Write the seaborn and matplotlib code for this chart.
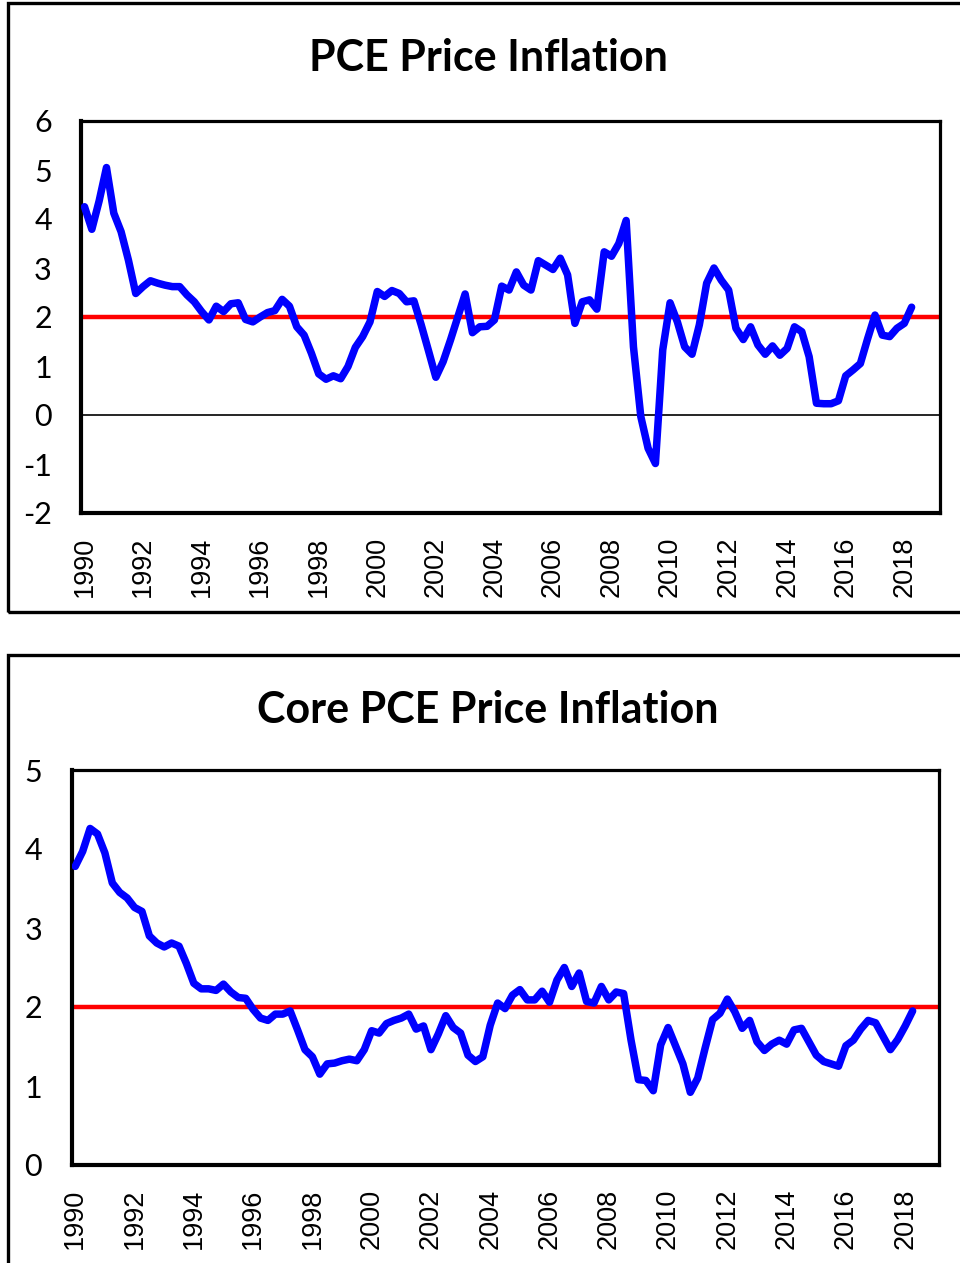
import numpy as np
import pandas as pd
import matplotlib
matplotlib.use("Agg")
import matplotlib.pyplot as plt
from matplotlib.patches import Rectangle
import seaborn as sns

# quarterly, 1990Q1 .. 2018Q2 (year-over-year %)
pce = [4.25, 3.79, 4.37, 5.05, 4.12, 3.74, 3.16, 2.48, 2.62, 2.74,
       2.69, 2.65, 2.62, 2.62, 2.45, 2.31, 2.11, 1.94, 2.22, 2.11,
       2.27, 2.29, 1.95, 1.90, 2.00, 2.09, 2.13, 2.36, 2.22, 1.80,
       1.63, 1.26, 0.84, 0.73, 0.80, 0.74, 0.99, 1.38, 1.60, 1.90,
       2.52, 2.42, 2.54, 2.48, 2.31, 2.33, 1.84, 1.31, 0.77, 1.09,
       1.53, 2.00, 2.47, 1.68, 1.80, 1.81, 1.94, 2.63, 2.55, 2.92,
       2.65, 2.55, 3.15, 3.06, 2.97, 3.20, 2.86, 1.87, 2.31, 2.35,
       2.16, 3.33, 3.24, 3.50, 3.97, 1.39, -0.03, -0.68, -0.99, 1.33,
       2.29, 1.90, 1.39, 1.24, 1.84, 2.69, 3.00, 2.75, 2.55, 1.77,
       1.54, 1.80, 1.43, 1.24, 1.41, 1.22, 1.36, 1.80, 1.70, 1.19,
       0.24, 0.23, 0.23, 0.29, 0.80, 0.92, 1.05, 1.56, 2.04, 1.63,
       1.60, 1.77, 1.87, 2.20]
core = [3.78, 3.97, 4.26, 4.19, 3.95, 3.57, 3.45, 3.38, 3.26, 3.21,
        2.90, 2.81, 2.76, 2.81, 2.77, 2.55, 2.30, 2.23, 2.23, 2.21,
        2.29, 2.19, 2.12, 2.11, 1.97, 1.86, 1.83, 1.91, 1.91, 1.95,
        1.71, 1.46, 1.37, 1.15, 1.28, 1.29, 1.32, 1.34, 1.32, 1.46,
        1.70, 1.67, 1.79, 1.83, 1.86, 1.91, 1.72, 1.76, 1.46, 1.66,
        1.89, 1.74, 1.67, 1.39, 1.31, 1.37, 1.77, 2.05, 1.98, 2.15,
        2.22, 2.09, 2.09, 2.20, 2.06, 2.34, 2.50, 2.26, 2.43, 2.07,
        2.05, 2.26, 2.09, 2.19, 2.17, 1.58, 1.08, 1.07, 0.94, 1.52,
        1.74, 1.51, 1.28, 0.92, 1.10, 1.48, 1.84, 1.92, 2.10, 1.94,
        1.73, 1.83, 1.56, 1.45, 1.53, 1.58, 1.53, 1.71, 1.73, 1.56,
        1.39, 1.31, 1.28, 1.25, 1.51, 1.58, 1.72, 1.83, 1.80, 1.63,
        1.46, 1.59, 1.76, 1.95]
target = 2
year_ticks = list(range(1990, 2019, 2))

quarters = pd.period_range("1990Q1", periods=len(pce), freq="Q")
t = quarters.year + (quarters.quarter - 1) / 4
df = pd.DataFrame({"t": t, "pce": pce, "core": core})

sns.set_style("white")
plt.rcParams["font.family"] = ["Lato", "DejaVu Sans"]

fig = plt.figure(figsize=(9.6, 12.63), dpi=100)
H = 1263.0
W = 960.0

panels = [
    dict(col="pce", title="PCE Price Inflation", rect=(81, 121, 940, 513),
         xlim=(1989.88, 2019.22), ylim=(-2, 6), yt=range(-2, 7), frame=(3, 612),
         zero=True, ypad=21),
    dict(col="core", title="Core PCE Price Inflation", rect=(72, 770, 939, 1165),
         xlim=(1989.89, 2019.14), ylim=(0, 5), yt=range(0, 6), frame=(655, 1400),
         zero=False, ypad=21.5),
]

for p in panels:
    l, tp, r, b = p["rect"]
    ax = fig.add_axes([l / W, 1 - b / H, (r - l) / W, (b - tp) / H])
    if p["zero"]:
        ax.axhline(0, color="black", lw=1.2, zorder=1)
    ax.axhline(target, color="#ff0000", lw=3.2, zorder=2)
    sns.lineplot(data=df, x="t", y=p["col"], ax=ax, color="#0000ff", lw=5.4, zorder=3)
    ax.set_xlim(*p["xlim"])
    ax.set_ylim(*p["ylim"])
    ax.set_xticks(year_ticks)
    ax.set_xticklabels([str(y) for y in year_ticks], rotation=90,
                       fontfamily="Liberation Sans", fontsize=19.5)
    ax.set_yticks(list(p["yt"]))
    ax.set_yticklabels([str(v) for v in p["yt"]], fontsize=22)
    ax.tick_params(axis="both", length=0, colors="black")
    ax.tick_params(axis="y", pad=p["ypad"])
    ax.tick_params(axis="x", pad=17)
    ax.set_xlabel("")
    ax.set_ylabel("")
    for side, w in [("left", 3.0), ("bottom", 3.0), ("top", 2.3), ("right", 2.3)]:
        ax.spines[side].set_visible(True)
        ax.spines[side].set_color("black")
        ax.spines[side].set_linewidth(w)
    # chart title and the outer chart border
    ft, fb = p["frame"]
    fig.text(488 / W, 1 - (ft + 55) / H, p["title"], ha="center", va="center",
             fontsize=31, fontweight="bold", color="black")
    fig.add_artist(Rectangle((8 / W, 1 - fb / H), 1.2, (fb - ft) / H,
                             transform=fig.transFigure, fill=False,
                             edgecolor="black", lw=2.4))

fig.savefig("out.png", dpi=100, facecolor="white")
